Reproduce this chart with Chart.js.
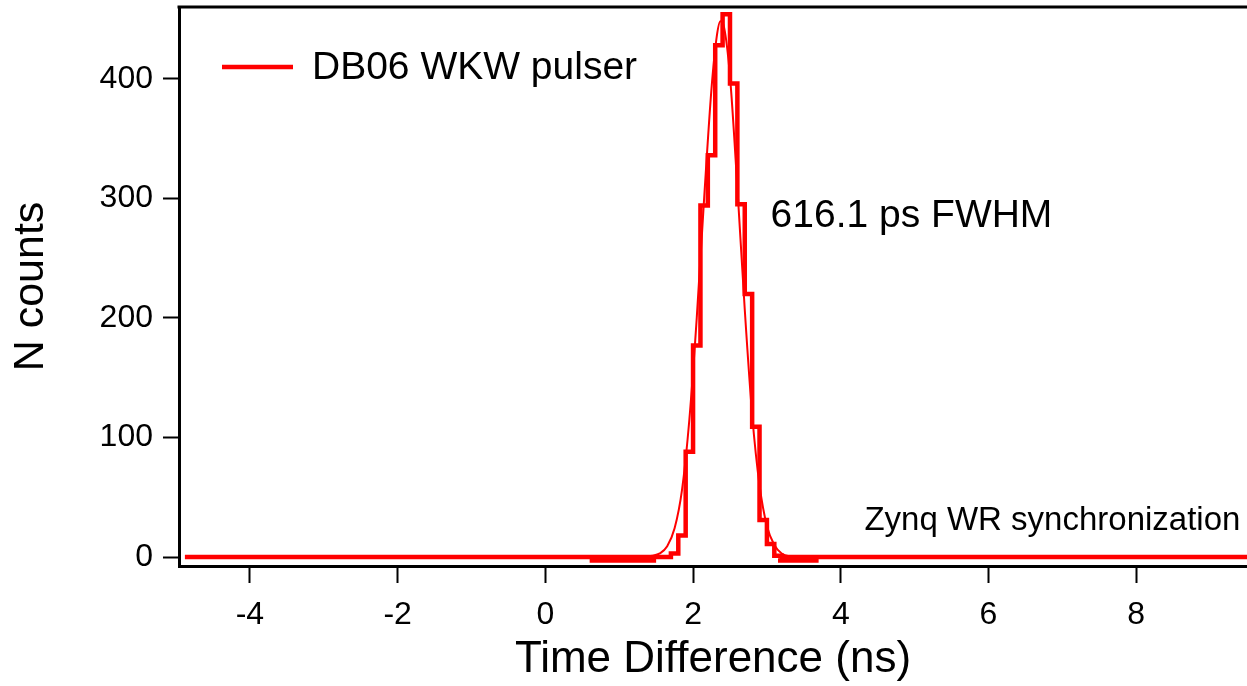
<!DOCTYPE html>
<html>
<head>
<meta charset="utf-8">
<script src="https://cdn.jsdelivr.net/npm/chart.js@4.4.1/dist/chart.umd.min.js"></script>
<style>
  html, body { margin: 0; padding: 0; background: #fff; }
  .chart-box { position: relative; width: 1247px; height: 686px; }
</style>
</head>
<body>
<div class="chart-box"><canvas id="histChart"></canvas></div>
<script>
// histogram: left edge of each bin (ns) and the counts in it
const binEdges = [-4.88, 1.7, 1.8, 1.9, 2.0, 2.1, 2.2, 2.3, 2.4, 2.5, 2.6, 2.7, 2.8, 2.9, 3.0, 3.1, 3.2, 9.5];
const binCounts = [0, 3, 18, 88, 177, 294, 336, 428, 454, 396, 295, 220, 109, 31, 11, 1, 0, 0];

// gaussian fit
const fitX = [1.30, 1.45, 1.55, 1.65, 1.75, 1.85, 1.95, 2.05, 2.15, 2.25, 2.32, 2.37, 2.42, 2.50, 2.60, 2.70, 2.80, 2.90, 3.00, 3.10, 3.20, 3.35];
const fitY = [0, 1, 3, 9, 24, 56, 115, 200, 300, 392, 435, 448, 443, 402, 309, 207, 119, 60, 26, 10, 3, 0];

// short pieces lying just under zero either side of the peak
const lowX = [0.6, 1.5, 2.4, 3.15, 3.7];
const lowY = [-3, -3, null, -3, -3];

const xTicks = [-4, -2, 0, 2, 4, 6, 8];
const yTicks = [0, 100, 200, 300, 400];

const seriesName = 'DB06 WKW pulser';
const fwhmNote = '616.1 ps FWHM';
const syncNote = 'Zynq WR synchronization';

const red = 'rgb(255, 0, 0)';
const fontFamily = '"Liberation Sans", Arial, sans-serif';

function toPoints(xs, ys) {
    return xs.map(function(x, i) { return { x: x, y: ys[i] }; });
}

// no extra room for labels sticking out, the frame is fixed
function noPadding(s) {
    s.paddingTop = 0;
    s.paddingBottom = 0;
    s.paddingLeft = 0;
    s.paddingRight = 0;
}

// top frame line, legend and the two notes
const extras = {
    id: 'extras',
    afterDraw(chart) {
        const c = chart.ctx;
        const area = chart.chartArea;
        const xs = chart.scales.x;
        const ys = chart.scales.y;
        c.save();
        c.strokeStyle = '#000';
        c.lineWidth = 3;
        c.beginPath();
        c.moveTo(area.left - 1.5, area.top);
        c.lineTo(chart.width, area.top);
        c.stroke();

        c.strokeStyle = red;
        c.lineWidth = 4.5;
        c.beginPath();
        c.moveTo(area.left + 43, area.top + 60);
        c.lineTo(area.left + 114, area.top + 60);
        c.stroke();

        c.fillStyle = '#000';
        c.textBaseline = 'alphabetic';
        c.textAlign = 'left';
        c.font = '39px ' + fontFamily;
        c.fillText(chart.data.datasets[0].label, area.left + 133, area.top + 72);

        c.font = '39px ' + fontFamily;
        c.fillText(fwhmNote, xs.getPixelForValue(3.05), ys.getPixelForValue(276));

        c.font = '33px ' + fontFamily;
        c.fillText(syncNote, xs.getPixelForValue(4.32), ys.getPixelForValue(22.5));
        c.restore();
    }
};

const config = {
    type: 'line',
    data: {
        datasets: [{
            label: seriesName,
            data: toPoints(binEdges, binCounts),
            stepped: 'before',
            borderColor: red,
            borderWidth: 4.5,
            borderJoinStyle: 'miter',
            pointRadius: 0,
            fill: false
        }, {
            label: 'fit',
            data: toPoints(fitX, fitY),
            borderColor: red,
            borderWidth: 2,
            cubicInterpolationMode: 'monotone',
            pointRadius: 0,
            fill: false
        }, {
            label: 'low',
            data: toPoints(lowX, lowY),
            borderColor: red,
            borderWidth: 4.5,
            spanGaps: false,
            pointRadius: 0,
            fill: false
        }]
    },
    options: {
        responsive: true,
        maintainAspectRatio: false,
        animation: false,
        devicePixelRatio: 1,
        layout: { autoPadding: false, padding: { top: 7, right: 0, bottom: 0, left: 0 } },
        plugins: {
            legend: { display: false },
            tooltip: { enabled: false }
        },
        scales: {
            x: {
                type: 'linear',
                min: -4.96,
                max: 9.5,
                afterFit: function(s) { s.height = 120; noPadding(s); },
                afterBuildTicks: function(s) { s.ticks = xTicks.map(function(v) { return { value: v }; }); },
                grid: { display: true, drawOnChartArea: false, drawTicks: true, tickLength: 17, tickWidth: 2, tickColor: '#000' },
                border: { display: true, color: '#000', width: 3 },
                ticks: { color: '#000', padding: 13, maxRotation: 0, font: { family: fontFamily, size: 32 } },
                title: { display: true, text: 'Time Difference (ns)', color: '#000', font: { family: fontFamily, size: 44 }, padding: { top: 0, bottom: 0 } }
            },
            y: {
                type: 'linear',
                min: -7.5,
                max: 460,
                afterFit: function(s) { s.width = 179; noPadding(s); },
                afterBuildTicks: function(s) { s.ticks = yTicks.map(function(v) { return { value: v }; }); },
                grid: { display: true, drawOnChartArea: false, drawTicks: true, tickLength: 16, tickWidth: 2, tickColor: '#000' },
                border: { display: true, color: '#000', width: 3 },
                ticks: { color: '#000', padding: 10, font: { family: fontFamily, size: 32 } },
                title: { display: true, text: 'N counts', color: '#000', font: { family: fontFamily, size: 43 }, padding: { top: 5, bottom: 0 } }
            }
        }
    },
    plugins: [extras]
};

const histChart = new Chart(document.getElementById('histChart'), config);
</script>
</body>
</html>
